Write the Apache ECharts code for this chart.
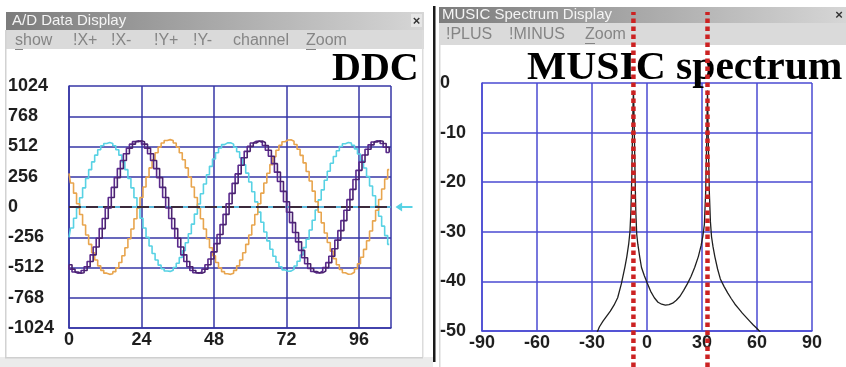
<!DOCTYPE html>
<html>
<head>
<meta charset="utf-8">
<script src="https://cdn.jsdelivr.net/npm/echarts@6/dist/echarts.min.js"></script>
<style>
html, body { margin: 0; padding: 0; background: #ffffff; }
#chart { width: 846px; height: 367px; }
</style>
</head>
<body>
<div id="chart"></div>
<script>
// ---- DDC window: three sampled channels (sample index 0..106) ----
const ddcCyan = [
  -257, -178, -95, -9, 78, 162, 242, 316, 382, 439, 484, 518, 538, 545, 538, 518, 484, 439, 382, 316,
  242, 162, 78, -9, -95, -178, -257, -330, -394, -449, -492, -523, -541, -545, -535, -512, -476, -428, -370, -302,
  -226, -145, -60, 26, 112, 195, 273, 344, 406, 459, 499, 528, 543, 544, 532, 506, 468, 417, 357, 287,
  211, 129, 43, -43, -129, -211, -287, -357, -417, -468, -506, -532, -544, -543, -528, -499, -459, -406, -344, -273,
  -195, -112, -26, 60, 145, 226, 302, 370, 428, 476, 512, 535, 545, 541, 523, 492, 449, 394, 330, 257,
  178, 95, 9, -78, -162, -242, -316
];
const ddcOrange = [
  285, 203, 117, 27, -63, -152, -237, -316, -387, -448, -498, -536, -560, -570, -565, -547, -515, -470, -413, -345,
  -269, -186, -99, -9, 81, 169, 253, 331, 400, 459, 507, 542, 563, 570, 563, 542, 507, 459, 400, 331,
  253, 169, 81, -9, -99, -186, -269, -345, -413, -470, -515, -547, -565, -570, -560, -536, -498, -448, -387, -316,
  -237, -152, -63, 27, 117, 203, 285, 359, 425, 480, 522, 552, 567, 569, 556, 529, 489, 437, 373, 301,
  220, 134, 45, -45, -134, -220, -301, -373, -437, -489, -529, -556, -569, -567, -552, -522, -480, -425, -359, -285,
  -203, -117, -27, 63, 152, 237, 316
];
const ddcPurple = [
  -489, -526, -550, -560, -556, -537, -506, -461, -405, -339, -264, -183, -97, -9, 80, 166, 249, 325, 393, 451,
  498, 532, 553, 560, 553, 532, 498, 451, 393, 325, 249, 166, 80, -9, -97, -183, -264, -339, -405, -461,
  -506, -537, -556, -560, -550, -526, -489, -440, -380, -310, -233, -149, -62, 27, 115, 200, 280, 353, 417, 471,
  513, 542, 557, 559, 546, 520, 480, 429, 367, 295, 216, 132, 44, -44, -132, -216, -295, -367, -429, -480,
  -520, -546, -559, -557, -542, -513, -471, -417, -353, -280, -200, -115, -27, 62, 149, 233, 310, 380, 440, 489,
  526, 550, 560, 556, 537, 506, 461
];
const ddcXTicks = [0, 24, 48, 72, 96];
const ddcXMax = 106.6;
const ddcYTicks = [-1024, -768, -512, -256, 0, 256, 512, 768, 1024];
const ddcTriggerLevel = 0;

// ---- MUSIC pseudo-spectrum (angle in degrees, level in dB) ----
const musicAngles = [
  -28, -26, -24, -22, -20, -18, -16, -14, -12, -11, -10, -9.3, -8.8, -8.3, -7.9, -7.6, -7.4, -7.2, -6.9, -6.5,
  -6.1, -5.6, -5, -4, -3, -1.5, 0, 2, 4, 6, 8, 10, 12, 14, 16, 18, 20, 22, 24, 26,
  28, 29.5, 30.5, 31.3, 32, 32.5, 32.8, 33, 33.2, 33.5, 34, 34.6, 35.2, 36, 37, 38.5, 40, 42, 44, 46,
  48, 50, 52, 54, 56, 58, 60, 62
];
const musicDb = [
  -51, -49.2, -48, -47, -46, -44.8, -43.3, -40.5, -37, -35, -32.5, -30, -26, -19, -10, -4, -1.5, -4, -10, -19,
  -26, -30.5, -32.5, -35, -37.2, -38.8, -40.2, -42, -43.3, -44.2, -44.6, -44.8, -44.7, -44.4, -43.8, -43, -41.8, -40.5, -39, -37.2,
  -35, -32.8, -30.8, -28.5, -22, -13, -6, -1.5, -6, -13, -22, -28, -31, -33, -35, -37.5, -39.5, -41, -42.3, -43.5,
  -44.6, -45.5, -46.4, -47.2, -48, -48.8, -49.5, -50.3
];
const doaAngles = [-7.4, 33];
const musicXTicks = [-90, -60, -30, 0, 30, 60, 90];
const musicYTicks = [-50, -40, -30, -20, -10, 0];

const sampleIndex = ddcCyan.map((_, i) => i);
const pairs = (xs, ys) => xs.map((x, i) => [x, ys[i]]);

const chart = echarts.init(document.getElementById('chart'), null, { renderer: 'canvas' });

const labelFont = {
  fontFamily: '"Liberation Sans", Arial, sans-serif',
  fontWeight: 'bold',
  fontSize: 18,
  color: '#1e1e1e'
};
const tickFormatter = ticks => v => (ticks.some(t => Math.abs(t - v) < 1e-6) ? String(v) : '');

const gridBlueL = '#3636a6';
const gridBlueR = '#4a4ad2';
const menuFont = '16px "Liberation Sans", Arial, sans-serif';
const barFont = '15px "Liberation Sans", Arial, sans-serif';
const headFont = 'bold 40px "Liberation Serif", "Times New Roman", serif';
const titleGrad = () => new echarts.graphic.LinearGradient(0, 0, 1, 0, [
  { offset: 0, color: '#7c7c7c' }, { offset: 1, color: '#d6d6d6' }
]);

const menuText = (text, x, y) => ({
  type: 'text', x: x, y: y, z: 0,
  style: { text: text, font: menuFont, fill: '#858585', verticalAlign: 'middle' }
});

const option = {
  animation: false,
  backgroundColor: '#ffffff',
  graphic: [
    // A/D Data Display window frame
    { type: 'rect', z: 0, shape: { x: 6, y: 12, width: 418, height: 18 }, style: { fill: titleGrad() } },
    { type: 'text', z: 0, x: 12, y: 21, style: { text: 'A/D Data Display', font: barFont, fill: '#f4f4f4', verticalAlign: 'middle' } },
    { type: 'rect', z: 0, shape: { x: 411, y: 14, width: 11, height: 13 }, style: { fill: '#e6e6e6' } },
    { type: 'text', z: 0, x: 416.5, y: 21, style: { text: '×', font: 'bold 13px "Liberation Sans"', fill: '#333', align: 'center', verticalAlign: 'middle' } },
    { type: 'rect', z: 0, shape: { x: 6, y: 30, width: 418, height: 19 }, style: { fill: '#dadada' } },
    menuText('show', 15, 41),
    { type: 'rect', z: 0, shape: { x: 15, y: 49, width: 8, height: 1 }, style: { fill: '#858585' } },
    menuText('!X+', 73, 41),
    menuText('!X-', 111, 41),
    menuText('!Y+', 154, 41),
    menuText('!Y-', 193, 41),
    menuText('channel', 233, 41),
    menuText('Zoom', 306, 41),
    { type: 'rect', z: 0, shape: { x: 306, y: 49, width: 10, height: 1 }, style: { fill: '#858585' } },
    { type: 'rect', z: 0, shape: { x: 5, y: 30, width: 1.5, height: 328 }, style: { fill: '#d2d2d2' } },
    { type: 'rect', z: 0, shape: { x: 422, y: 30, width: 1.5, height: 328 }, style: { fill: '#dcdcdc' } },
    { type: 'rect', z: 0, shape: { x: 0, y: 357, width: 433, height: 10 }, style: { fill: '#ebebeb' } },
    { type: 'rect', z: 0, shape: { x: 5, y: 357, width: 418, height: 1.5 }, style: { fill: '#cfcfcf' } },
    // MUSIC Spectrum Display window frame
    { type: 'rect', z: 0, shape: { x: 433, y: 6, width: 2.5, height: 356 }, style: { fill: '#1a1a1a' } },
    { type: 'rect', z: 0, shape: { x: 439, y: 7, width: 407, height: 16 }, style: { fill: titleGrad() } },
    { type: 'text', z: 0, x: 442, y: 15, style: { text: 'MUSIC Spectrum Display', font: barFont, fill: '#f4f4f4', verticalAlign: 'middle' } },
    { type: 'text', z: 0, x: 839, y: 15, style: { text: '×', font: 'bold 13px "Liberation Sans"', fill: '#333', align: 'center', verticalAlign: 'middle' } },
    { type: 'rect', z: 0, shape: { x: 439, y: 23, width: 407, height: 22 }, style: { fill: '#dadada' } },
    menuText('!PLUS', 446, 35),
    menuText('!MINUS', 509, 35),
    menuText('Zoom', 585, 35),
    { type: 'rect', z: 0, shape: { x: 585, y: 43, width: 10, height: 1 }, style: { fill: '#858585' } },
    { type: 'rect', z: 0, shape: { x: 439, y: 45, width: 1.5, height: 322 }, style: { fill: '#d8d8d8' } },
    // panel headings
    { type: 'text', z: 1, x: 332, y: 70, style: { text: 'DDC', font: headFont, fill: '#000', verticalAlign: 'middle' } },
    { type: 'text', z: 1, x: 527, y: 69, scaleX: 1.04, style: { text: 'MUSIC spectrum', font: headFont, fill: '#000', verticalAlign: 'middle' } }
  ],
  grid: [
    { left: 69, top: 86, width: 322, height: 242 },
    { left: 482, top: 83, width: 330, height: 248 },
    { left: 482, top: 12, width: 330, height: 355 }
  ],
  xAxis: [
    {
      gridIndex: 0, type: 'value', min: ddcXTicks[0], max: ddcXMax, interval: ddcXTicks[1] - ddcXTicks[0],
      axisLine: { show: true, onZero: false, lineStyle: { color: gridBlueL, width: 1.5 } },
      axisTick: { show: false },
      splitLine: { show: true, lineStyle: { color: gridBlueL, width: 1.5 } },
      axisLabel: Object.assign({ margin: 3, formatter: tickFormatter(ddcXTicks) }, labelFont)
    },
    {
      gridIndex: 1, type: 'value', min: musicXTicks[0], max: musicXTicks[musicXTicks.length - 1],
      interval: musicXTicks[1] - musicXTicks[0],
      axisLine: { show: true, onZero: false, lineStyle: { color: gridBlueR, width: 1.5 } },
      axisTick: { show: false },
      splitLine: { show: true, lineStyle: { color: gridBlueR, width: 1.5 } },
      axisLabel: Object.assign({ margin: 3, formatter: tickFormatter(musicXTicks) }, labelFont)
    },
    {
      gridIndex: 2, type: 'value', min: musicXTicks[0], max: musicXTicks[musicXTicks.length - 1], show: false
    }
  ],
  yAxis: [
    {
      gridIndex: 0, type: 'value', min: ddcYTicks[0], max: ddcYTicks[ddcYTicks.length - 1],
      interval: ddcYTicks[1] - ddcYTicks[0],
      axisLine: { show: true, onZero: false, lineStyle: { color: gridBlueL, width: 1.5 } },
      axisTick: { show: false },
      splitLine: { show: true, lineStyle: { color: gridBlueL, width: 1.5 } },
      axisLabel: Object.assign({ margin: 61, align: 'left', formatter: tickFormatter(ddcYTicks) }, labelFont)
    },
    {
      gridIndex: 1, type: 'value', min: musicYTicks[0], max: musicYTicks[musicYTicks.length - 1],
      interval: musicYTicks[1] - musicYTicks[0],
      axisLine: { show: true, onZero: false, lineStyle: { color: gridBlueR, width: 1.5 } },
      axisTick: { show: false },
      splitLine: { show: true, lineStyle: { color: gridBlueR, width: 1.5 } },
      axisLabel: Object.assign({ margin: 42, align: 'left', formatter: tickFormatter(musicYTicks) }, labelFont)
    },
    { gridIndex: 2, type: 'value', min: 0, max: 1, show: false }
  ],
  series: [
    {
      name: 'ch-cyan', type: 'line', xAxisIndex: 0, yAxisIndex: 0, step: 'middle',
      data: pairs(sampleIndex, ddcCyan), showSymbol: false, symbol: 'none',
      lineStyle: { color: '#58d2e4', width: 1.6 }, z: 3,
      markLine: {
        silent: true, symbol: 'none', label: { show: false },
        data: [
          { yAxis: ddcTriggerLevel, lineStyle: { color: '#58d2e4', width: 1.5, type: 'solid' } },
          { yAxis: ddcTriggerLevel, lineStyle: { color: '#3b2a3c', width: 2, type: [12, 5] } }
        ]
      },
      markPoint: {
        silent: true, label: { show: false },
        data: [{
          coord: [ddcXMax, ddcTriggerLevel],
          symbol: 'path://M0,5L7,0L7,4L18,4L18,6L7,6L7,10Z',
          symbolSize: [17, 9], symbolOffset: [13, 0],
          itemStyle: { color: '#58d2e4' }
        }]
      }
    },
    {
      name: 'ch-orange', type: 'line', xAxisIndex: 0, yAxisIndex: 0, step: 'middle',
      data: pairs(sampleIndex, ddcOrange), showSymbol: false, symbol: 'none',
      lineStyle: { color: '#e8a54e', width: 1.6 }, z: 4
    },
    {
      name: 'ch-purple-a', type: 'line', xAxisIndex: 0, yAxisIndex: 0, step: 'start',
      data: pairs(sampleIndex, ddcPurple), showSymbol: false, symbol: 'none',
      lineStyle: { color: '#5a2a8c', width: 1.6 }, z: 5
    },
    {
      name: 'ch-purple-b', type: 'line', xAxisIndex: 0, yAxisIndex: 0, step: 'end',
      data: pairs(sampleIndex, ddcPurple), showSymbol: false, symbol: 'none',
      lineStyle: { color: '#4a2270', width: 1.6 }, z: 5
    },
    {
      name: 'music', type: 'line', xAxisIndex: 1, yAxisIndex: 1,
      data: pairs(musicAngles, musicDb), showSymbol: false, symbol: 'none', clip: true,
      lineStyle: { color: '#202020', width: 1.3 }, z: 3
    }
  ].concat(doaAngles.map((a, i) => ({
    name: 'doa-' + i, type: 'line', xAxisIndex: 2, yAxisIndex: 2,
    data: [[a, 0], [a, 1]], showSymbol: false, symbol: 'none', z: 10,
    lineStyle: { color: '#cc2222', width: 4.5, type: [4.5, 3.5] }
  })))
};

chart.setOption(option);
</script>
</body>
</html>
